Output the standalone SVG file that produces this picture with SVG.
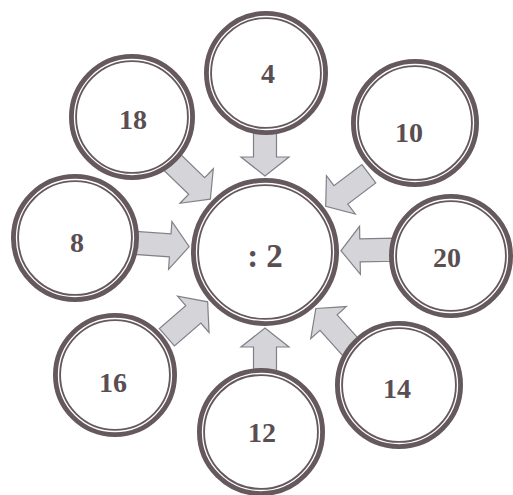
<svg xmlns="http://www.w3.org/2000/svg" width="513" height="495" viewBox="0 0 513 495">
<defs>
<style>
.ring{fill:#fff;stroke:#65595e;stroke-width:8}
.gap{fill:none;stroke:#fff;stroke-width:1.3}
.lbl{font-family:"Liberation Serif","Times New Roman",serif;font-weight:bold;font-size:28px;fill:#5a4e53;text-anchor:middle;dominant-baseline:central}
.arr{fill:#d4d4d9;stroke:#808088;stroke-width:1.2;stroke-linejoin:miter}
</style>
<polygon id="arrow" points="76,0 95,-24 95,-11.5 130,-11.5 130,11.5 95,11.5 95,24"/>
</defs>
<rect width="513" height="495" fill="#fff"/>
<g id="connectors" class="arr">
<use href="#arrow" transform="translate(265,252) rotate(-90)"/>
<use href="#arrow" transform="translate(265,252) rotate(-37)"/>
<use href="#arrow" transform="translate(265,252) rotate(-1)"/>
<use href="#arrow" transform="translate(265,252) rotate(48)"/>
<use href="#arrow" transform="translate(265,252) rotate(90)"/>
<use href="#arrow" transform="translate(265,252) rotate(139)"/>
<use href="#arrow" transform="translate(265,252) rotate(184)"/>
<use href="#arrow" transform="translate(265,252) rotate(224)"/>
</g>
<g id="center">
<circle class="ring" cx="265" cy="252" r="70"/><circle class="gap" cx="265" cy="252" r="68.5"/>
<text class="lbl" x="265" y="256" style="font-size:33px">: 2</text>
</g>
<g id="n4"><circle class="ring" cx="266" cy="73" r="58"/><circle class="gap" cx="266" cy="73" r="56.5"/><text class="lbl" x="268" y="73">4</text></g>
<g id="n10"><circle class="ring" cx="415" cy="123" r="60"/><circle class="gap" cx="415" cy="123" r="58.5"/><text class="lbl" x="409" y="132">10</text></g>
<g id="n20"><circle class="ring" cx="451" cy="256" r="58"/><circle class="gap" cx="451" cy="256" r="56.5"/><text class="lbl" x="447" y="257">20</text></g>
<g id="n14"><circle class="ring" cx="399" cy="385" r="60"/><circle class="gap" cx="399" cy="385" r="58.5"/><text class="lbl" x="397" y="388">14</text></g>
<g id="n12"><circle class="ring" cx="261" cy="432" r="60"/><circle class="gap" cx="261" cy="432" r="58.5"/><text class="lbl" x="262" y="432">12</text></g>
<g id="n16"><circle class="ring" cx="115" cy="375" r="58"/><circle class="gap" cx="115" cy="375" r="56.5"/><text class="lbl" x="113" y="382">16</text></g>
<g id="n8"><circle class="ring" cx="75" cy="238" r="60"/><circle class="gap" cx="75" cy="238" r="58.5"/><text class="lbl" x="77" y="242">8</text></g>
<g id="n18"><circle class="ring" cx="132" cy="117" r="59"/><circle class="gap" cx="132" cy="117" r="57.5"/><text class="lbl" x="133" y="119">18</text></g>
</svg>
